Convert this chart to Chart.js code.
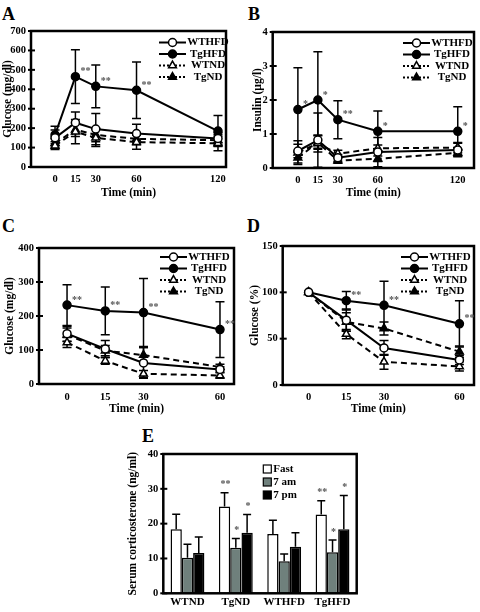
<!DOCTYPE html>
<html>
<head>
<meta charset="utf-8">
<script src="https://cdn.jsdelivr.net/npm/chart.js@4.4.1/dist/chart.umd.min.js"></script>
<style>
  body { margin: 0; background: #fff; width: 480px; height: 612px; position: relative; overflow: hidden; font-family: "Liberation Serif", serif; }
  .panel { position: absolute; }
  .tag { position: absolute; font-weight: bold; font-size: 18px; line-height: 18px; }
</style>
</head>
<body>
<div class="tag" style="left:2px;top:5px">A</div>
<div class="tag" style="left:248px;top:5px">B</div>
<div class="tag" style="left:2px;top:217px">C</div>
<div class="tag" style="left:247px;top:217px">D</div>
<div class="tag" style="left:142px;top:427px">E</div>

<canvas id="chartA" class="panel" width="240" height="200" style="left:0;top:0"></canvas>
<canvas id="chartB" class="panel" width="240" height="200" style="left:240px;top:0"></canvas>
<canvas id="chartC" class="panel" width="240" height="216" style="left:0;top:200px"></canvas>
<canvas id="chartD" class="panel" width="240" height="216" style="left:240px;top:200px"></canvas>
<canvas id="chartE" class="panel" width="280" height="212" style="left:100px;top:400px"></canvas>

<script>
// --- data ---
const timesLong = [0, 15, 30, 60, 120];   // A, B
const timesShort = [0, 15, 30, 60];       // C, D

// A: glucose tolerance (mg/dl)
const wthfdA = [150, 228, 195, 172, 147];
const wthfdAErr = [40, 55, 80, 48, 30];
const tghfdA = [165, 465, 415, 395, 185];
const tghfdAErr = [45, 138, 110, 145, 80];
const wtndA = [110, 182, 150, 128, 122];
const wtndAErr = [20, 62, 45, 36, 38];
const tgndA = [122, 192, 165, 145, 138];
const tgndAErr = [25, 35, 35, 30, 30];
const starsA = ['', '**', '**', '**', ''];

// B: insulin (ug/l)
const wthfdB = [0.5, 0.82, 0.3, 0.47, 0.53];
const wthfdBErr = [0.2, 0.8, 0.1, 0.43, 0.2];
const tghfdB = [1.72, 2.0, 1.42, 1.08, 1.08];
const tghfdBErr = [1.23, 1.42, 0.56, 0.6, 0.72];
const wtndB = [0.45, 0.72, 0.42, 0.58, 0.6];
const wtndBErr = [0.35, 0.25, 0.1, 0.1, 0.15];
const tgndB = [0.3, 0.75, 0.22, 0.27, 0.45];
const tgndBErr = [0.15, 0.2, 0.08, 0.08, 0.1];
const starsB = ['*', '*', '**', '*', '*'];

// C: insulin tolerance, glucose (mg/dl)
const wthfdC = [148, 103, 62, 43];
const wthfdCErr = [22, 25, 45, 8];
const tghfdC = [232, 215, 210, 160];
const tghfdCErr = [60, 70, 100, 82];
const wtndC = [122, 68, 30, 25];
const wtndCErr = [15, 10, 10, 8];
const tgndC = [145, 98, 85, 50];
const tgndCErr = [20, 15, 22, 8];
const starsC = ['**', '**', '**', '**'];

// D: glucose (%)
const wthfdD = [100, 70, 40, 27];
const wthfdDErr = [0, 12, 8, 5];
const tghfdD = [100, 91, 86, 66];
const tghfdDErr = [0, 10, 26, 25];
const wtndD = [100, 55, 25, 20];
const wtndDErr = [0, 5, 8, 5];
const tgndD = [100, 68, 61, 36];
const tgndDErr = [0, 10, 7, 6];
const starsD = ['', '**', '**', '**'];

// E: serum corticosterone (ng/ml)
const groupsE = ['WTND', 'TgND', 'WTHFD', 'TgHFD'];
const fastE = [18.4, 24.9, 17.0, 22.6];
const fastEErr = [4.3, 4.0, 4.0, 4.0];
const amE = [10.2, 13.1, 9.2, 11.8];
const amEErr = [3.9, 2.6, 2.1, 3.5];
const pmE = [11.6, 17.4, 13.4, 18.4];
const pmEErr = [4.6, 5.2, 4.0, 9.7];
const starsFast = ['', '**', '', '**'];
const starsAm = ['', '*', '', '*'];
const starsPm = ['', '*', '', '*'];

const FONT = '"Liberation Serif", "Times New Roman", serif';
const f = (size) => ({ family: FONT, size: size, weight: 'bold' });

function val(d) { return typeof d === 'object' ? d.y : d; }

function drawErrors(chart, cfg) {
  const ctx = chart.ctx;
  const y = chart.scales.y;
  ctx.save();
  ctx.strokeStyle = '#000';
  ctx.lineWidth = 1.5;
  chart.data.datasets.forEach((ds, i) => {
    const meta = chart.getDatasetMeta(i);
    ds.err.forEach((e, j) => {
      if (!e) return;
      const el = meta.data[j];
      const v = val(ds.data[j]);
      const x = el.x;
      const top = y.getPixelForValue(v + e);
      const bot = cfg.kind === 'bar' ? el.y : y.getPixelForValue(Math.max(v - e, 0));
      const cap = cfg.kind === 'bar' ? 4 : 4.5;
      ctx.beginPath();
      ctx.moveTo(x, top); ctx.lineTo(x, bot);
      ctx.moveTo(x - cap, top); ctx.lineTo(x + cap, top);
      if (cfg.kind !== 'bar') { ctx.moveTo(x - cap, bot); ctx.lineTo(x + cap, bot); }
      ctx.stroke();
    });
  });
  ctx.restore();
}

function drawFrame(chart) {
  const ctx = chart.ctx;
  const a = chart.chartArea;
  const y = chart.scales.y;
  ctx.save();
  ctx.strokeStyle = '#000';
  ctx.lineWidth = 2;
  y.ticks.forEach(t => {
    const py = y.getPixelForValue(t.value);
    ctx.beginPath(); ctx.moveTo(a.left - 3, py); ctx.lineTo(a.left + 4, py); ctx.stroke();
  });
  ctx.lineWidth = 2.5;
  ctx.strokeRect(a.left, a.top, a.right - a.left, a.bottom - a.top);
  ctx.restore();
}

function drawStars(chart, cfg) {
  const ctx = chart.ctx;
  const y = chart.scales.y;
  ctx.save();
  ctx.fillStyle = '#555';
  ctx.font = 'bold 10px ' + FONT;
  ctx.textBaseline = 'middle';
  cfg.stars.forEach(s => {
    const ds = chart.data.datasets[s.ds];
    const meta = chart.getDatasetMeta(s.ds);
    s.marks.forEach((m, j) => {
      if (!m) return;
      const el = meta.data[j];
      if (cfg.kind === 'bar') {
        ctx.textAlign = 'center';
        ctx.fillText(m, el.x + 1, y.getPixelForValue(val(ds.data[j]) + ds.err[j]) - 8);
      } else {
        ctx.textAlign = 'left';
        ctx.fillText(m, el.x + 5, el.y - 5);
      }
    });
  });
  ctx.restore();
}

function drawLegend(chart, cfg) {
  const ctx = chart.ctx;
  const a = chart.chartArea;
  ctx.save();
  ctx.font = 'bold 11px ' + FONT;
  ctx.textBaseline = 'middle';
  chart.data.datasets.forEach((ds, i) => {
    if (cfg.kind === 'bar') {
      const x = a.left + cfg.legend.dx;
      const yy = a.top + cfg.legend.dy + i * cfg.legend.step;
      ctx.fillStyle = ds.backgroundColor;
      ctx.fillRect(x, yy - 4, 8, 8);
      ctx.strokeStyle = '#000'; ctx.lineWidth = 1.2;
      ctx.strokeRect(x, yy - 4, 8, 8);
      ctx.fillStyle = '#000'; ctx.textAlign = 'left';
      ctx.fillText(ds.label, x + 10, yy);
      return;
    }
    const cx = a.right - cfg.legend.dx;
    const yy = a.top + cfg.legend.dy + i * cfg.legend.step;
    const x0 = cx - 49, x1 = cx - 22;
    ctx.strokeStyle = '#000'; ctx.lineWidth = 2;
    ctx.setLineDash(ds.borderDash.length ? [2, 2] : []);
    ctx.beginPath(); ctx.moveTo(x0, yy); ctx.lineTo(x1, yy); ctx.stroke();
    ctx.setLineDash([]);
    ctx.fillStyle = ds.pointBackgroundColor; ctx.lineWidth = 1.5;
    Chart.helpers.drawPoint(ctx, { pointStyle: ds.pointStyle, radius: ds.pointRadius, rotation: 0, borderWidth: 1.5 }, (x0 + x1) / 2, yy);
    ctx.fillStyle = '#000'; ctx.textAlign = 'center';
    ctx.fillText(ds.label, cx, yy);
  });
  ctx.restore();
}

function makeExtras(cfg) {
  return {
    id: 'extras',
    beforeDatasetsDraw(chart) { if (cfg.kind !== 'bar') drawErrors(chart, cfg); },
    afterDatasetsDraw(chart) { if (cfg.kind === 'bar') drawErrors(chart, cfg); },
    afterDraw(chart) { drawFrame(chart); drawStars(chart, cfg); drawLegend(chart, cfg); }
  };
}

function series(label, times, values, errs, open, tri, dashed) {
  return {
    label: label,
    data: values.map((v, i) => ({ x: times[i], y: v })),
    err: errs,
    borderColor: '#000',
    borderWidth: 2,
    borderDash: dashed ? [6, 4] : [],
    pointStyle: tri ? 'triangle' : 'circle',
    pointRadius: tri ? 4.5 : 4,
    pointBackgroundColor: open ? '#fff' : '#000',
    pointBorderColor: '#000',
    pointBorderWidth: 1.5,
    tension: 0,
    fill: false
  };
}

function lineChart(id, times, sets, o) {
  return new Chart(document.getElementById(id), {
    type: 'line',
    data: {
      datasets: [
        series('WTHFD', times, sets[0], sets[1], true, false, false),
        series('TgHFD', times, sets[2], sets[3], false, false, false),
        series('WTND', times, sets[4], sets[5], true, true, true),
        series('TgND', times, sets[6], sets[7], false, true, true)
      ]
    },
    options: {
      responsive: false,
      animation: false,
      layout: { padding: { top: o.top, right: o.right, left: 0, bottom: 0 } },
      plugins: { legend: { display: false }, tooltip: { enabled: false } },
      scales: {
        x: {
          type: 'linear', min: o.xMin, max: o.xMax,
          afterBuildTicks: s => { s.ticks = times.map(v => ({ value: v })); },
          afterFit: s => { s.height = o.xH; },
          grid: { display: false, drawTicks: false },
          border: { display: false },
          ticks: { font: f(10.5), color: '#000', padding: o.xPad },
          title: { display: true, text: 'Time (min)', font: f(11.5), color: '#000', padding: 0 }
        },
        y: {
          min: 0, max: o.yMax,
          afterFit: s => { s.width = o.yW; },
          grid: { display: false, drawTicks: false },
          border: { display: false },
          ticks: { stepSize: o.yStep, font: f(10.5), color: '#000', padding: 5 },
          title: { display: true, text: o.yTitle, font: f(11.5), color: '#000', padding: { top: o.titlePad, bottom: 0 } }
        }
      }
    },
    plugins: [makeExtras({ kind: 'line', stars: [{ ds: 1, marks: o.stars }], legend: o.legend })]
  });
}

lineChart('chartA', timesLong,
  [wthfdA, wthfdAErr, tghfdA, tghfdAErr, wtndA, wtndAErr, tgndA, tgndAErr],
  { top: 31, right: 14, yW: 31, xH: 33, xMin: -17.7, xMax: 125.9, xPad: 6, yMax: 700, yStep: 100,
    yTitle: 'Glucose (mg/dl)', titlePad: 1.5, stars: starsA, legend: { dx: 18, dy: 11.5, step: 11.5 } });

lineChart('chartB', timesLong,
  [wthfdB, wthfdBErr, tghfdB, tghfdBErr, wtndB, wtndBErr, tgndB, tgndBErr],
  { top: 32, right: 2.5, yW: 32.7, xH: 32, xMin: -18.9, xMax: 132.2, xPad: 6, yMax: 4, yStep: 1,
    yTitle: 'Insulin (µg/l)', titlePad: 11.4, stars: starsB, legend: { dx: 22, dy: 11, step: 11.5 } });

lineChart('chartC', timesShort,
  [wthfdC, wthfdCErr, tghfdC, tghfdCErr, wtndC, wtndCErr, tgndC, tgndCErr],
  { top: 48, right: 6, yW: 39, xH: 32, xMin: -11, xMax: 65.5, xPad: 7, yMax: 400, yStep: 100,
    yTitle: 'Glucose (mg/dl)', titlePad: 3, stars: starsC, legend: { dx: 25, dy: 9, step: 11.5 } });

lineChart('chartD', timesShort,
  [wthfdD, wthfdDErr, tghfdD, tghfdDErr, wtndD, wtndDErr, tgndD, tgndDErr],
  { top: 46, right: 3.3, yW: 42.7, xH: 31, xMin: -10.3, xMax: 65.8, xPad: 6, yMax: 150, yStep: 50,
    yTitle: 'Glucose (%)', titlePad: 8, stars: starsD, legend: { dx: 24, dy: 11, step: 11.5 } });

// E: bar chart
new Chart(document.getElementById('chartE'), {
  type: 'bar',
  data: {
    labels: groupsE,
    datasets: [
      { label: 'Fast', data: fastE, err: fastEErr, backgroundColor: '#fff' },
      { label: '7 am', data: amE, err: amEErr, backgroundColor: '#6f807c' },
      { label: '7 pm', data: pmE, err: pmEErr, backgroundColor: '#000' }
    ].map(d => Object.assign(d, { borderColor: '#000', borderWidth: 1.5, categoryPercentage: 0.7, barPercentage: 1.0 }))
  },
  options: {
    responsive: false,
    animation: false,
    layout: { padding: { top: 54, right: 23.3, left: 0, bottom: 0 } },
    plugins: { legend: { display: false }, tooltip: { enabled: false } },
    scales: {
      x: {
        afterFit: s => { s.height = 18.7; },
        grid: { display: false, drawTicks: false },
        border: { display: false },
        ticks: { font: f(11), color: '#000', padding: 2 }
      },
      y: {
        min: 0, max: 40,
        afterFit: s => { s.width = 63.3; },
        grid: { display: false, drawTicks: false },
        border: { display: false },
        ticks: { stepSize: 10, font: f(10.5), color: '#000', padding: 5 },
        title: { display: true, text: 'Serum corticosterone (ng/ml)', font: f(11.5), color: '#000', padding: { top: 26, bottom: 0 } }
      }
    }
  },
  plugins: [makeExtras({
    kind: 'bar',
    stars: [{ ds: 0, marks: starsFast }, { ds: 1, marks: starsAm }, { ds: 2, marks: starsPm }],
    legend: { dx: 100, dy: 15, step: 13 }
  })]
});
</script>
</body>
</html>
